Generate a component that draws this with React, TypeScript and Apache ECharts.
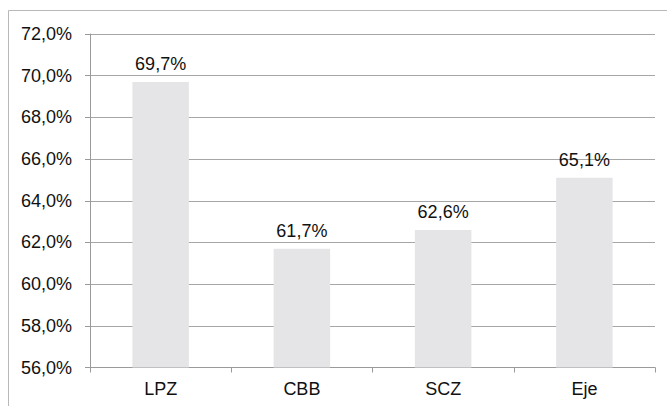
import React, { useEffect, useRef } from "react";
import * as echarts from "echarts";

const categories = ["LPZ", "CBB", "SCZ", "Eje"];
const values = [69.7, 61.7, 62.6, 65.1];
const yMin = 56;
const yMax = 72;
const yStep = 2;

const fmt = (v: number) => v.toFixed(1).replace(".", ",") + "%";

export default function App() {
  const ref = useRef<HTMLDivElement>(null);
  useEffect(() => {
    if (!ref.current) return;
    const chart = echarts.init(ref.current, null, { renderer: "svg" });
    const font = '"Liberation Sans", Arial, sans-serif';
    chart.setOption({
      animation: false,
      backgroundColor: "#ffffff",
      textStyle: { fontFamily: font },
      graphic: [
        {
          type: "rect",
          shape: { x: 8.5, y: 10.5, width: 720, height: 500 },
          style: { fill: "none", stroke: "#b8b8b8", lineWidth: 1 },
          silent: true,
          z: 0,
        },
      ],
      grid: { left: 90, top: 34, right: 12, bottom: 38.5 },
      xAxis: {
        type: "category",
        data: categories,
        axisLine: { show: true, lineStyle: { color: "#9a9a9a", width: 1 } },
        axisTick: { show: true, alignWithLabel: false, length: 5, lineStyle: { color: "#9a9a9a" } },
        axisLabel: { color: "#111", fontSize: 18, fontFamily: font, margin: 12 },
      },
      yAxis: {
        type: "value",
        min: yMin,
        max: yMax,
        interval: yStep,
        axisLine: { show: true, lineStyle: { color: "#9a9a9a", width: 1 } },
        axisTick: { show: true, length: 5, lineStyle: { color: "#9a9a9a" } },
        axisLabel: { color: "#111", fontSize: 18, fontFamily: font, margin: 18, formatter: (v: number) => fmt(v) },
        splitLine: { show: true, lineStyle: { color: "#a6a6a6", width: 1 } },
      },
      series: [
        {
          type: "bar",
          data: values,
          barWidth: "40%",
          itemStyle: { color: "#e5e5e7" },
          label: {
            show: true,
            position: "top",
            distance: 9,
            color: "#111",
            fontSize: 18,
            fontFamily: font,
            formatter: (p: any) => fmt(p.value),
          },
        },
      ],
    });
    return () => chart.dispose();
  }, []);
  return (
    <div
      ref={ref}
      style={{ position: "fixed", left: 0, top: 0, width: 667, height: 406 }}
    />
  );
}
